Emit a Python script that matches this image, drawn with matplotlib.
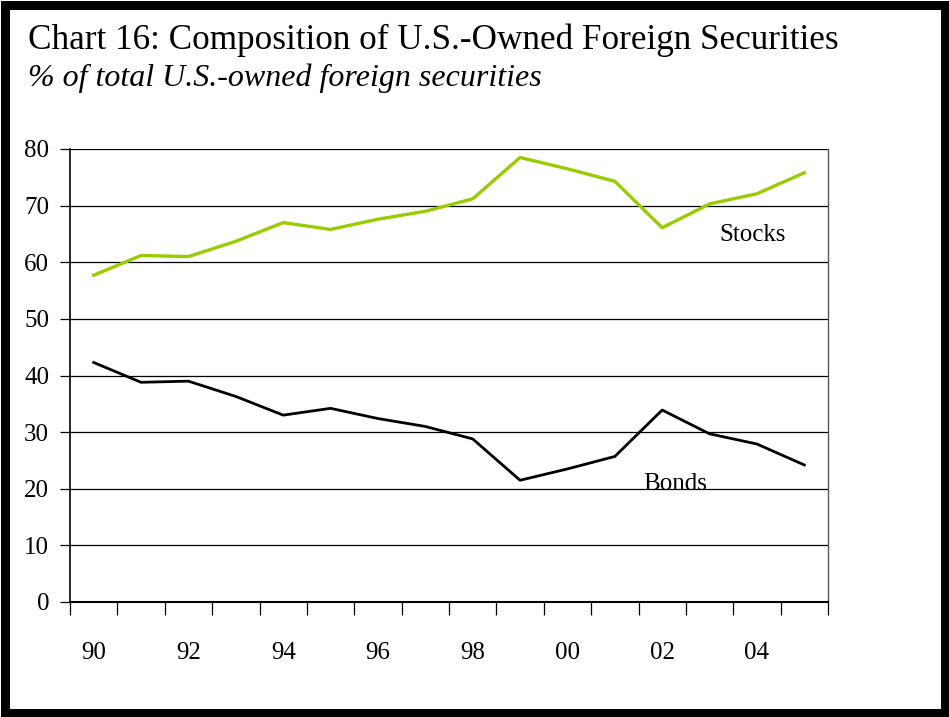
import matplotlib
matplotlib.use("Agg")
import matplotlib.pyplot as plt
from matplotlib.patches import Rectangle

years = ["90", "91", "92", "93", "94", "95", "96", "97", "98", "99", "00", "01", "02", "03", "04", "05"]
stocks = [57.7, 61.2, 61.0, 63.7, 67.0, 65.8, 67.6, 69.0, 71.2, 78.5, 76.5, 74.3, 66.1, 70.3, 72.1, 75.8]
bonds = [42.3, 38.8, 39.0, 36.3, 33.0, 34.2, 32.4, 31.0, 28.8, 21.5, 23.5, 25.7, 33.9, 29.7, 27.9, 24.2]
yticks = [0, 10, 20, 30, 40, 50, 60, 70, 80]

W, H = 949, 717
fig = plt.figure(figsize=(W / 100, H / 100), dpi=100)
plt.rcParams['font.family'] = ['Liberation Serif', 'DejaVu Serif']

ax = fig.add_axes([70 / W, 1 - 602 / H, (828 - 70) / W, (602 - 149) / H])
n = len(years)
xs = [i + 0.5 for i in range(n)]
ax.plot(xs, stocks, color="#99CC00", lw=2.4)
ax.plot(xs, bonds, color="black", lw=2.0)
ax.set_xlim(0, n)
ax.set_ylim(0, 80)
ax.set_yticks(yticks)
ax.set_yticklabels([str(v) for v in yticks], fontsize=18)
for v in yticks[1:]:
    ax.axhline(v, color="black", lw=0.9, zorder=0)
ax.set_xticks(range(n + 1))
ax.set_xticklabels([])
ax.set_xticks(xs[::2], minor=True)
ax.set_xticklabels(years[::2], minor=True, fontsize=18)
ax.tick_params(axis="x", which="major", direction="out", length=9, width=0.9)
ax.tick_params(axis="x", which="minor", length=0, pad=29)
ax.tick_params(axis="y", direction="out", length=7, width=0.9, pad=8)
ax.spines["top"].set_visible(False)
ax.spines["right"].set_color("#555555")
ax.spines["left"].set_linewidth(1.2)
ax.spines["bottom"].set_linewidth(1.5)
ax.spines["right"].set_linewidth(1.0)

ax.text(14.4, 64.8, "Stocks", fontsize=18, ha="center", va="center")
ax.text(12.77, 20.8, "Bonds", fontsize=18, ha="center", va="center")

fig.text(28 / W, 1 - 40 / H, "Chart 16: Composition of U.S.-Owned Foreign Securities",
         fontsize=25.3, ha="left", va="center")
fig.text(28 / W, 1 - 78 / H, "% of total U.S.-owned foreign securities",
         fontsize=23, style="italic", ha="left", va="center")

fig.patches.append(Rectangle((4.5 / W, 4.5 / H), (W - 9) / W, (H - 9) / H,
                             transform=fig.transFigure, fill=False,
                             edgecolor="black", lw=6.5))
fig.savefig("out.png", dpi=100)
